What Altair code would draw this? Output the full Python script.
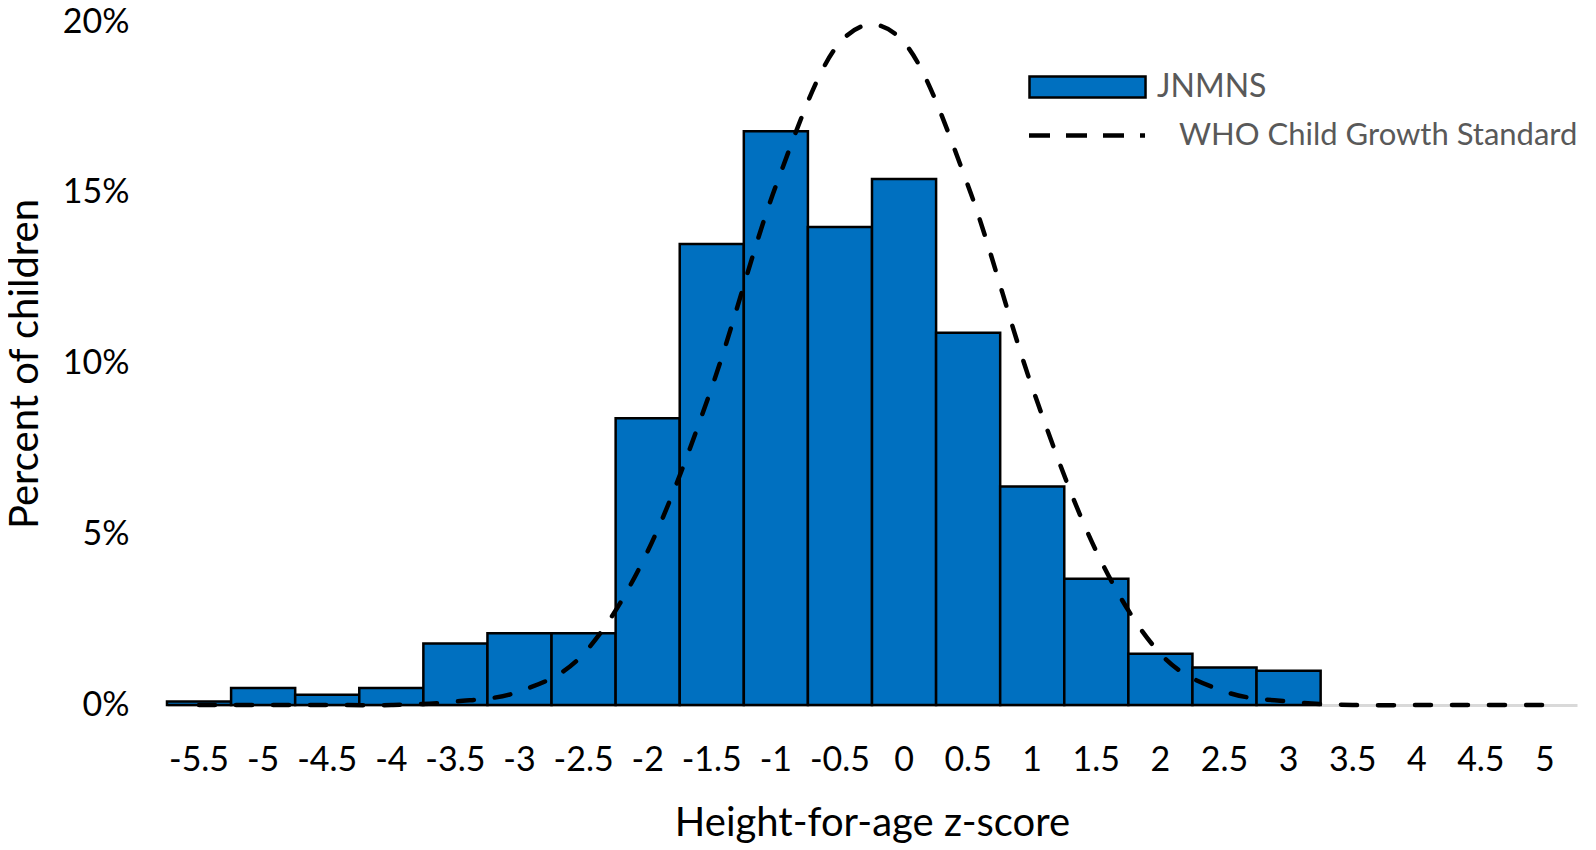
import altair as alt
import pandas as pd

# ---- data ----
categories = ["-5.5", "-5", "-4.5", "-4", "-3.5", "-3", "-2.5", "-2", "-1.5", "-1", "-0.5",
              "0", "0.5", "1", "1.5", "2", "2.5", "3", "3.5", "4", "4.5", "5"]
jnmns_pct = [0.1, 0.5, 0.3, 0.5, 1.8, 2.1, 2.1, 8.4, 13.5, 16.8, 14.0,
             15.4, 10.9, 6.4, 3.7, 1.5, 1.1, 1.0]
who_pct = [0, 0, 0, 0, 0.1, 0.4, 1.5, 4.5, 9.3, 15.2, 19.4,
           19.4, 15.2, 9.3, 4.5, 1.5, 0.4, 0.1, 0, 0, 0, 0]
y_ticks = [0, 5, 10, 15, 20]
series_names = ["JNMNS", "WHO Child Growth Standard"]

bars_df = pd.DataFrame({"z": categories[:len(jnmns_pct)], "pct": jnmns_pct, "series": series_names[0]})
line_df = pd.DataFrame({"z": categories, "pct": who_pct, "series": series_names[1]})

FONT = "Lato"

x_enc = alt.X(
    "z:N",
    sort=categories,
    scale=alt.Scale(domain=categories, paddingInner=0, paddingOuter=0),
    axis=alt.Axis(
        title="Height-for-age z-score",
        labelAngle=0,
        ticks=False,
        grid=False,
        domainColor="#D9D9D9",
        domainWidth=3,
        labelFont=FONT,
        labelFontSize=34,
        labelColor="black",
        labelPadding=38,
        titleFont=FONT,
        titleFontSize=40,
        titleFontWeight="normal",
        titleColor="black",
        titleBaseline="alphabetic",
        titleY=130,
    ),
)

y_enc = alt.Y(
    "pct:Q",
    scale=alt.Scale(domain=[0, 20], nice=False),
    axis=alt.Axis(
        title="Percent of children",
        values=y_ticks,
        labelExpr="datum.value + '%'",
        ticks=False,
        domain=False,
        grid=False,
        labelFont=FONT,
        labelFontSize=34,
        labelColor="black",
        labelPadding=38,
        titleFont=FONT,
        titleFontSize=40,
        titleFontWeight="normal",
        titleColor="black",
        titleBaseline="alphabetic",
        titleX=-130,
    ),
)

bars = alt.Chart(bars_df).mark_bar(stroke="black", strokeWidth=2.5).encode(
    x=x_enc,
    y=y_enc,
    fill=alt.Fill(
        "series:N",
        scale=alt.Scale(domain=[series_names[0]], range=["#0070C0"]),
        legend=alt.Legend(
            title=None,
            orient="none",
            legendX=857,
            legendY=49,
            padding=0,
            symbolType="M-1,-1H10.05V1H-1Z",
            symbolSize=441,
            symbolStrokeColor="black",
            symbolStrokeWidth=2.5,
            labelFont=FONT,
            labelFontSize=32,
            labelColor="#595959",
            labelOffset=101,
            labelLimit=0,
        ),
    ),
)

line = alt.Chart(line_df).mark_line(
    strokeWidth=4.5, strokeDash=[16, 21], strokeCap="round", interpolate="cardinal", tension=0
).encode(
    x=x_enc,
    y=y_enc,
    stroke=alt.Stroke(
        "series:N",
        scale=alt.Scale(domain=[series_names[1]], range=["black"]),
        legend=alt.Legend(
            title=None,
            orient="none",
            legendX=857,
            legendY=98,
            padding=0,
            symbolType="M-1,0H10.05",
            symbolSize=441,
            symbolStrokeWidth=4.5,
            symbolDash=[21, 16],
            symbolFillColor="transparent",
            labelFont=FONT,
            labelFontSize=31,
            labelColor="#595959",
            labelOffset=124,
            labelLimit=0,
        ),
    ),
)

chart = (
    alt.layer(bars, line)
    .resolve_scale(fill="independent", stroke="independent")
    .properties(
        width=1410,
        height=683,
        autosize=alt.AutoSizeParams(type="none"),
        padding={"left": 159, "top": 14, "right": 11, "bottom": 140},
        background="white",
    )
    .configure_view(stroke=None)
)

chart.save("out.html", embed_options={"renderer": "svg", "actions": False})
